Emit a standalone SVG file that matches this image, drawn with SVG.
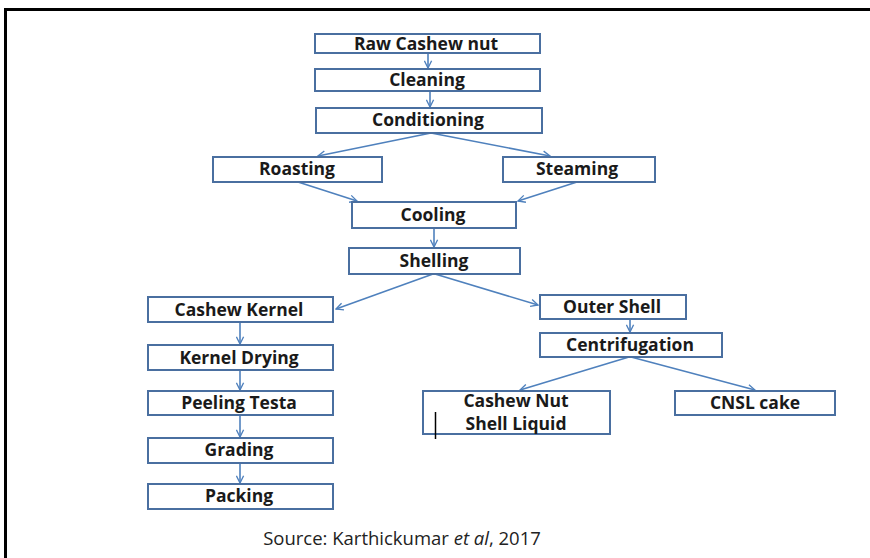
<svg xmlns="http://www.w3.org/2000/svg" width="870" height="558" viewBox="0 0 870 558">
<defs>
<marker id="ah" viewBox="0 0 10 10" refX="9" refY="5" markerWidth="9" markerHeight="9" markerUnits="userSpaceOnUse" orient="auto">
<path d="M1,1 L9,5 L1,9" fill="none" stroke="#4f81bd" stroke-width="1.5"/>
</marker>
<style>
.box{fill:#fff;stroke:#4a6fa0;stroke-width:2}
.lbl{font-family:"Open Sans","Liberation Sans",sans-serif;font-weight:700;font-size:17.5px;fill:#1a1a1a;text-anchor:middle}
.con{stroke:#4f81bd;stroke-width:1.6;fill:none;marker-end:url(#ah)}
</style>
</defs>
<rect x="0" y="0" width="870" height="558" fill="#fff"/>
<path d="M5.5,558 V9.5 H870" fill="none" stroke="#000" stroke-width="3"/>
<g id="connectors">
<line class="con" x1="428" y1="53" x2="428" y2="68"/>
<line class="con" x1="430" y1="91" x2="430" y2="107"/>
<line class="con" x1="431" y1="133" x2="318" y2="156"/>
<line class="con" x1="431" y1="133" x2="550" y2="156"/>
<line class="con" x1="298" y1="182" x2="357" y2="201"/>
<line class="con" x1="577" y1="182" x2="518" y2="201"/>
<line class="con" x1="434" y1="228" x2="434" y2="247"/>
<line class="con" x1="433" y1="274" x2="336" y2="309"/>
<line class="con" x1="435" y1="274" x2="538" y2="305"/>
<line class="con" x1="240" y1="322" x2="240" y2="344"/>
<line class="con" x1="240" y1="370" x2="240" y2="390"/>
<line class="con" x1="240" y1="415" x2="240" y2="437"/>
<line class="con" x1="240" y1="463" x2="240" y2="483"/>
<line class="con" x1="630" y1="319" x2="630" y2="332"/>
<line class="con" x1="629" y1="357" x2="520" y2="390"/>
<line class="con" x1="631" y1="357" x2="755" y2="390"/>
</g>
<g id="raw"><rect class="box" x="315" y="34" width="225" height="19"/><text class="lbl" x="426" y="50">Raw Cashew nut</text></g>
<g id="cleaning"><rect class="box" x="315" y="69" width="225" height="22"/><text class="lbl" x="427" y="86">Cleaning</text></g>
<g id="conditioning"><rect class="box" x="316" y="108" width="226" height="25"/><text class="lbl" x="428" y="126">Conditioning</text></g>
<g id="roasting"><rect class="box" x="213" y="157" width="169" height="25"/><text class="lbl" x="297" y="175">Roasting</text></g>
<g id="steaming"><rect class="box" x="503" y="157" width="152" height="25"/><text class="lbl" x="577" y="175">Steaming</text></g>
<g id="cooling"><rect class="box" x="352" y="202" width="164" height="26"/><text class="lbl" x="433" y="221">Cooling</text></g>
<g id="shelling"><rect class="box" x="349" y="248" width="171" height="26"/><text class="lbl" x="434" y="267">Shelling</text></g>
<g id="kernel"><rect class="box" x="148" y="297" width="185" height="25"/><text class="lbl" x="239" y="316">Cashew Kernel</text></g>
<g id="outershell"><rect class="box" x="540" y="295" width="146" height="24"/><text class="lbl" x="612" y="313">Outer Shell</text></g>
<g id="centrifugation"><rect class="box" x="540" y="333" width="182" height="24"/><text class="lbl" x="630" y="351">Centrifugation</text></g>
<g id="drying"><rect class="box" x="148" y="345" width="185" height="25"/><text class="lbl" x="239" y="364">Kernel Drying</text></g>
<g id="peeling"><rect class="box" x="148" y="391" width="185" height="24"/><text class="lbl" x="239" y="409">Peeling Testa</text></g>
<g id="grading"><rect class="box" x="148" y="438" width="185" height="25"/><text class="lbl" x="239" y="456">Grading</text></g>
<g id="packing"><rect class="box" x="148" y="484" width="185" height="25"/><text class="lbl" x="239" y="502">Packing</text></g>
<g id="cnsl"><rect class="box" x="423" y="391" width="187" height="43"/><text class="lbl" x="516" y="407">Cashew Nut</text><text class="lbl" x="516" y="430">Shell Liquid</text></g>
<g id="cnslcake"><rect class="box" x="675" y="391" width="160" height="24"/><text class="lbl" x="755" y="409">CNSL cake</text></g>
<line x1="435.5" y1="412" x2="435.5" y2="439" stroke="#000" stroke-width="1.5"/>
<text x="402" y="545" font-family="Open Sans,'Liberation Sans',sans-serif" font-size="18.5" fill="#222" text-anchor="middle">Source: Karthickumar <tspan font-style="italic">et al</tspan>, 2017</text>
</svg>
